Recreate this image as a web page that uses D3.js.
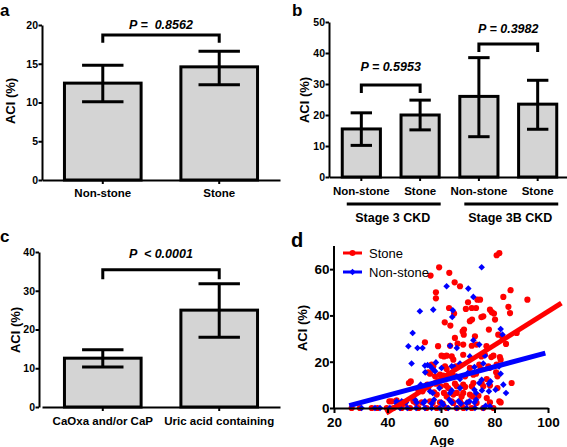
<!DOCTYPE html>
<html><head><meta charset="utf-8">
<script src="https://cdn.jsdelivr.net/npm/d3@7"></script>
<style>body{margin:0;background:#fff} svg{display:block}</style>
</head><body><svg id="c" width="567" height="447"></svg>
<script>
// ---------- data ----------
const catsA = ["Non-stone", "Stone"];
const meanA = [12.5, 14.6];
const lowA  = [10.1, 12.3];
const highA = [14.8, 16.6];
const ticksA = [0, 5, 10, 15, 20];
const pA = "P =  0.8562";
const bracketA = [18.7, 17.7];

const catsB = ["Non-stone 3", "Stone 3", "Non-stone 3B", "Stone 3B"];
const labelsB = ["Non-stone", "Stone", "Non-stone", "Stone"];
const groupsB = ["Stage 3 CKD", "Stage 3B CKD"];
const meanB = [15.5, 20.0, 26.0, 23.5];
const lowB  = [10.2, 15.2, 13.0, 15.4];
const highB = [20.7, 24.8, 38.5, 31.2];
const ticksB = [0, 10, 20, 30, 40, 50];
const pB = ["P = 0.5953", "P = 0.3982"];
const bracketB = [[29.7, 27.1], [42.9, 40.3]];

const catsC = ["CaOxa and/or CaP", "Uric acid containing"];
const meanC = [12.6, 25.0];
const lowC  = [10.3, 18.0];
const highC = [14.8, 31.8];
const ticksC = [0, 10, 20, 30, 40];
const pC = "P  < 0.0001";
const bracketC = [35.4, 33.0];

const ticksDx = [20, 40, 60, 80, 100];
const ticksDy = [0, 20, 40, 60];
const legendD = ["Stone", "Non-stone"];
const stonePts = [[80.8,66],[81.8,66.9],[59.3,60.8],[63.1,58.4],[56.1,57.2],[65.1,54.3],[67.1,52.6],[58.1,50],[58.1,47.4],[86,50.9],[92.3,46.8],[73.6,46.8],[74.6,46.8],[70.1,45.7],[83.3,48],[69.3,42.8],[71.5,43.2],[73.1,43.2],[63,43.2],[85.2,43.7],[78.3,42.5],[79,41.4],[79.8,40.8],[75.1,39.3],[75.8,39.6],[64.9,40.8],[85.8,41],[80.2,38.2],[61.4,37],[63.5,35.6],[70.8,37.5],[71.6,38.2],[68.1,33.1],[68.6,33.9],[68.5,31.7],[77.9,33.9],[81.4,31.7],[82.8,31],[65.2,30.3],[72.7,31],[88.3,32.4],[54,28.4],[58.9,26.7],[63.4,26.9],[66.2,27.8],[68.3,27.4],[71.5,26.9],[73.3,27.4],[77,26.7],[84.3,27.7],[60.2,22.6],[61.1,22.3],[62.1,22.6],[64,22.3],[64.6,20.9],[68.3,23],[75.1,22.3],[76.4,23],[78.8,22],[79.6,22.6],[82,22],[82.3,20.9],[56.5,18.7],[57.1,18],[61.5,18],[62.1,16.9],[65.6,18],[70.8,17.3],[74.3,18.7],[74.8,16.9],[77.7,18],[78.1,17.3],[80.8,18.7],[55.3,15.4],[55.9,14.8],[57.8,13.7],[59.6,14.4],[60.9,14],[63.1,14.8],[64.6,14],[69,13.7],[72.1,14.4],[73.1,14.8],[77.1,12.5],[80.6,15.4],[81.1,13.7],[86.4,10.8],[48,10.8],[48.7,11.5],[51.5,7.9],[53.1,7.2],[54.9,10.1],[55.3,9.1],[58.1,10.5],[59.9,9.4],[61.9,9.7],[62.7,8.6],[65.2,10.5],[65.9,9.4],[68.3,10.1],[69,9.1],[71.5,9.4],[72.1,10.8],[75.2,10.8],[75.8,9.4],[78.3,9.7],[81.1,8.6],[57.4,6.8],[58.4,5.8],[61.1,6.5],[62.1,5],[64.6,5.8],[65.9,6.5],[67.7,5],[68.3,6.5],[70.8,5.8],[71.8,5],[74,5.3],[77.1,4.3],[81.8,2.9],[82.3,2.4],[40.7,2.9],[41.6,2.9],[43.4,3.3],[45.9,2.4],[46.5,1.9],[49.7,2.9],[50.7,2.2],[52.8,2.4],[55.9,2.9],[56.9,2.2],[59.6,2.4],[60.6,1.9],[64,2.9],[64.6,2.2],[67.1,2.9],[67.7,1.7],[70.2,2.4],[73.3,2.2],[78.3,2.4],[26.6,0],[29.7,0],[34.1,0],[36.2,0],[39.7,0],[42.2,0],[45.3,0],[48.4,0],[51.5,0],[54.6,0],[58.4,0],[62.1,0],[65.9,0],[68.4,0],[71.5,0],[75.8,0],[79.6,0]];
const nonStonePts = [[75.2,60.8],[62.1,52.6],[70.2,51.6],[72.1,48],[52.1,41.8],[57.1,42.5],[64.4,42.2],[64.2,39.3],[49.4,32.4],[82.3,34.1],[83,31.7],[72.1,29.3],[74.3,27.4],[63.4,26.9],[47.8,26.7],[51.2,25.9],[53.1,25.9],[65.9,25.9],[70.8,22.3],[76.4,22.6],[49,19.2],[54,18.3],[55,18.6],[56,18],[58.1,19.7],[60.2,17.3],[64,18],[64.9,17.7],[67.1,19.2],[72.5,17.7],[75.8,19.2],[81.7,18],[82.3,14.8],[54.1,15.4],[57.1,16.6],[57.8,15.9],[61.2,12.5],[65.9,13.7],[67.1,12.5],[70,15.1],[74.3,10.8],[75.2,12.2],[77.9,10.5],[78.5,11.5],[83.3,10.1],[84.3,6.5],[52.4,10.1],[55.9,7.2],[56.9,6.5],[59.4,8.6],[63.4,6.5],[64,7.6],[67.1,8.6],[72.5,7.9],[73.1,6.5],[75.3,7.6],[77.9,7.2],[80.4,7.9],[43.4,2.9],[45.3,2.9],[43.4,1.9],[46.9,2.4],[50.3,3.6],[50.9,2.4],[53.4,2.2],[54,2.9],[56.5,1.9],[57.4,3.6],[60.2,2.4],[60.9,1.4],[63.1,3.6],[64,2.4],[66.5,2.9],[67.4,1.9],[69.6,2.2],[70.6,2.9],[72.5,2.4],[73.1,3.6],[76.7,1],[78.3,0.7],[30.3,0],[35.3,0],[37.2,0],[40.9,0],[44.7,0],[47.4,0],[50.7,0],[54,0],[56.5,0],[59.6,0],[62.7,0],[65.9,0],[69.6,0],[72.7,0],[75.8,0]];
const stoneFit = [[39.5, -2.2], [105, 45.3]];
const nonStoneFit = [[25.7, 1.0], [99, 23.7]];

// ---------- drawing ----------
const FONT = '"Liberation Sans", Arial, Helvetica, sans-serif';
const svg = d3.select("#c").attr("font-family", FONT);

function styleAxis(g, fs) {
  g.select(".domain").attr("stroke", "#000").attr("stroke-width", 2);
  g.selectAll(".tick line").attr("stroke", "#000").attr("stroke-width", 2);
  g.selectAll(".tick text").attr("fill", "#000").attr("font-size", fs)
    .attr("font-weight", "bold").attr("font-family", FONT);
}

function barPanel(o) {
  const x = d3.scaleBand().domain(o.cats).range(o.xr).paddingInner(o.pi).paddingOuter(o.po);
  const y = d3.scaleLinear().domain([0, o.ticks[o.ticks.length - 1]]).range(o.yr);
  const g = svg.append("g");
  const bw = x.bandwidth();
  const cx = d => x(d) + bw / 2;
  g.selectAll("rect").data(o.cats).join("rect")
    .attr("x", d => x(d) + 1.5).attr("width", bw - 3)
    .attr("y", (d, i) => y(o.mean[i])).attr("height", (d, i) => y(0) - y(o.mean[i]))
    .attr("fill", "#d4d4d4").attr("stroke", "#000").attr("stroke-width", 3);
  const cap = bw * 0.26;
  o.cats.forEach((d, i) => {
    g.append("line").attr("x1", cx(d)).attr("x2", cx(d)).attr("y1", y(o.low[i])).attr("y2", y(o.high[i]))
      .attr("stroke", "#000").attr("stroke-width", 3);
    [o.low[i], o.high[i]].forEach(v => g.append("line").attr("x1", cx(d) - cap).attr("x2", cx(d) + cap)
      .attr("y1", y(v)).attr("y2", y(v)).attr("stroke", "#000").attr("stroke-width", 3));
  });
  const ya = g.append("g").attr("transform", `translate(${o.yAxisX},0)`)
    .call(d3.axisLeft(y).tickValues(o.ticks).tickSize(3.5).tickSizeOuter(0).tickPadding(0.5));
  styleAxis(ya, 10.5);
  const xa = g.append("g").attr("transform", `translate(0,${y(0)})`)
    .call(d3.axisBottom(x).tickSize(4).tickSizeOuter(0).tickPadding(o.xpad)
      .tickFormat((d, i) => o.labels[i]));
  styleAxis(xa, 11.5);
  g.append("text").attr("transform", `translate(${o.title[0]},${o.title[1]}) rotate(-90)`)
    .attr("text-anchor", "middle").attr("dominant-baseline", "central")
    .attr("font-size", 13).attr("font-weight", "bold").text("ACI (%)");
  return { x, y, g, cx };
}

function bracket(p, c1, c2, vals, label, dy) {
  const x1 = p.cx(c1), x2 = p.cx(c2);
  p.g.append("path")
    .attr("d", `M${x1},${p.y(vals[1])}V${p.y(vals[0])}H${x2}V${p.y(vals[1])}`)
    .attr("fill", "none").attr("stroke", "#000").attr("stroke-width", 3);
  p.g.append("text").attr("x", (x1 + x2) / 2).attr("y", p.y(vals[0]) - dy)
    .attr("text-anchor", "middle").attr("font-size", 12.5).attr("font-weight", "bold")
    .attr("font-style", "italic").style("white-space", "pre").text(label);
}

function letter(t, x, y, fs) {
  svg.append("text").attr("x", x).attr("y", y).attr("font-size", fs).attr("font-weight", "bold").text(t);
}

// Panel a
const pa = barPanel({cats: catsA, labels: catsA, mean: meanA, low: lowA, high: highA, ticks: ticksA,
  xr: [42, 280], yr: [180, 25], pi: 0.316, po: 0.18, yAxisX: 42, xpad: 4.8, title: [10, 101]});
bracket(pa, catsA[0], catsA[1], bracketA, pA, 6);
letter("a", 0, 15.5, 17);

// Panel b
const pb = barPanel({cats: catsB, labels: labelsB, mean: meanB, low: lowB, high: highB, ticks: ticksB,
  xr: [329, 570], yr: [177, 22], pi: 0.3, po: 0.2, yAxisX: 329, xpad: 5.8, title: [304, 100]});
bracket(pb, catsB[0], catsB[1], bracketB[0], pB[0], 14);
bracket(pb, catsB[2], catsB[3], bracketB[1], pB[1], 11);
groupsB.forEach((gname, k) => {
  const a = catsB[k * 2], b = catsB[k * 2 + 1];
  const x1 = pb.x(a) + 6, x2 = pb.x(b) + pb.x.bandwidth();
  pb.g.append("line").attr("x1", x1).attr("x2", x2).attr("y1", 204).attr("y2", 204)
    .attr("stroke", "#000").attr("stroke-width", 3);
  pb.g.append("text").attr("x", (x1 + x2) / 2 - 1).attr("y", 222).attr("text-anchor", "middle")
    .attr("font-size", 12.5).attr("font-weight", "bold").text(gname);
});
letter("b", 292, 15.5, 17);

// Panel c
const pc = barPanel({cats: catsC, labels: catsC, mean: meanC, low: lowC, high: highC, ticks: ticksC,
  xr: [42, 280], yr: [407, 252], pi: 0.316, po: 0.18, yAxisX: 39, xpad: 5.8, title: [15, 330]});
bracket(pc, catsC[0], catsC[1], bracketC, pC, 12);
letter("c", 0, 241.5, 17);

// Panel d
{
  const x = d3.scaleLinear().domain([20, 100]).range([334, 548]);
  const y = d3.scaleLinear().domain([0, 70]).range([408, 246]);
  const g = svg.append("g");
  const diamond = "M0,-3.3L3.3,0L0,3.3L-3.3,0Z";
  g.selectAll("circle.s").data(stonePts).join("circle").attr("class", "s")
    .attr("cx", d => x(d[0])).attr("cy", d => y(d[1])).attr("r", 3.1).attr("fill", "#ff0000");
  g.selectAll("path.n").data(nonStonePts).join("path").attr("class", "n")
    .attr("d", diamond).attr("transform", d => `translate(${x(d[0])},${y(d[1])})`).attr("fill", "#0000ff");
  const line = d3.line().x(d => x(d[0])).y(d => y(d[1]));
  g.append("path").attr("d", line(stoneFit)).attr("stroke", "#ff0000").attr("stroke-width", 5).attr("fill", "none");
  g.append("path").attr("d", line(nonStoneFit)).attr("stroke", "#0000ff").attr("stroke-width", 5).attr("fill", "none");

  const ya = g.append("g").attr("transform", `translate(334,0)`)
    .call(d3.axisLeft(y).tickValues(ticksDy).tickSize(4).tickSizeOuter(0).tickPadding(0.5));
  ya.select(".domain").attr("d", `M0,${y(0)}V${y(70)}`);
  styleAxis(ya, 13.5);
  const xa = g.append("g").attr("transform", `translate(0,408)`)
    .call(d3.axisBottom(x).tickValues(ticksDx).tickSize(5).tickSizeOuter(0).tickPadding(4.3));
  styleAxis(xa, 13.5);
  g.append("text").attr("x", 442).attr("y", 445).attr("text-anchor", "middle")
    .attr("font-size", 13).attr("font-weight", "bold").text("Age");
  g.append("text").attr("transform", `translate(302,328) rotate(-90)`)
    .attr("text-anchor", "middle").attr("dominant-baseline", "central")
    .attr("font-size", 13).attr("font-weight", "bold").text("ACI (%)");
  // legend
  const colors = ["#ff0000", "#0000ff"];
  legendD.forEach((t, i) => {
    const ly = 253 + i * 19;
    g.append("line").attr("x1", 343).attr("x2", 362).attr("y1", ly).attr("y2", ly)
      .attr("stroke", colors[i]).attr("stroke-width", 3);
    if (i === 0) g.append("circle").attr("cx", 352.5).attr("cy", ly).attr("r", 3).attr("fill", colors[i]);
    else g.append("path").attr("d", diamond).attr("transform", `translate(352.5,${ly})`).attr("fill", colors[i]);
    g.append("text").attr("x", 369).attr("y", ly).attr("dominant-baseline", "central")
      .attr("font-size", 13).text(t);
  });
  letter("d", 291, 247, 20);
}
</script></body></html>
